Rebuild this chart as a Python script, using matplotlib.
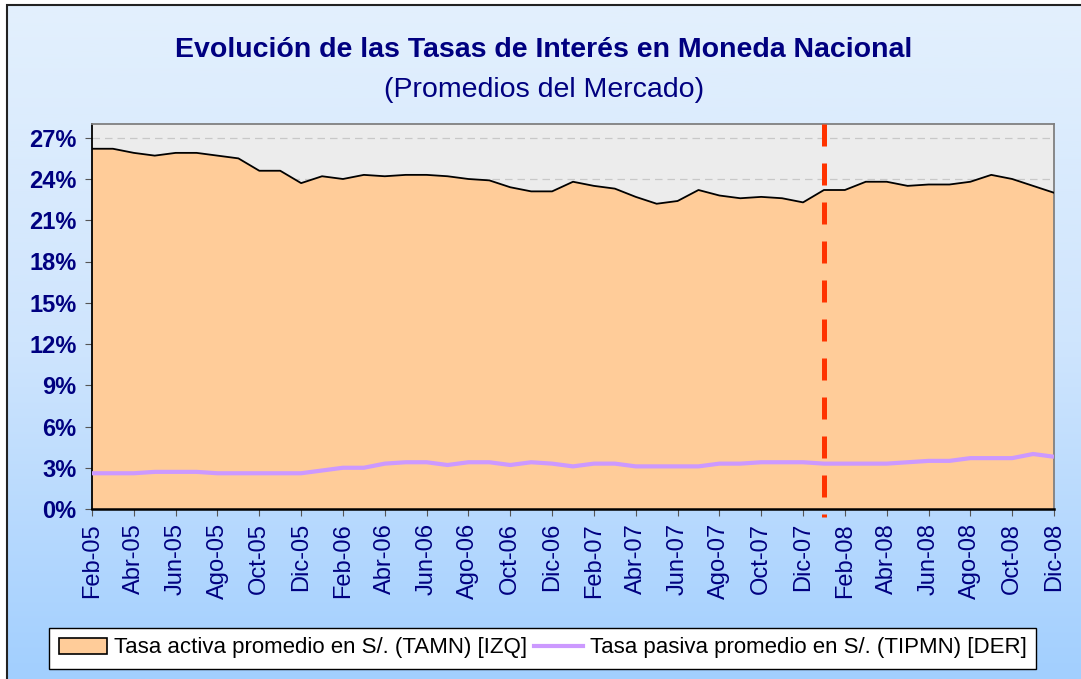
import numpy as np
import matplotlib
matplotlib.use("Agg")
import matplotlib.pyplot as plt
from matplotlib.patches import Patch, Rectangle
from matplotlib.lines import Line2D
from matplotlib.colors import LinearSegmentedColormap
from matplotlib.ticker import FuncFormatter, MultipleLocator

plt.rcParams['font.family'] = ['Liberation Sans', 'DejaVu Sans']

# ---------------- data ----------------
month_names = ["Ene", "Feb", "Mar", "Abr", "May", "Jun", "Jul", "Ago", "Sep", "Oct", "Nov", "Dic"]
years = ["05", "06", "07", "08"]
categories = [f"{m}-{y}" for y in years for m in month_names][1:]  # Feb-05 .. Dic-08

tamn = [26.2, 26.2, 25.9, 25.7, 25.9, 25.9, 25.7, 25.5, 24.6, 24.6, 23.7, 24.2,
        24.0, 24.3, 24.2, 24.3, 24.3, 24.2, 24.0, 23.9, 23.4, 23.1, 23.1, 23.8,
        23.5, 23.3, 22.7, 22.2, 22.4, 23.2, 22.8, 22.6, 22.7, 22.6, 22.3, 23.2,
        23.2, 23.8, 23.8, 23.5, 23.6, 23.6, 23.8, 24.3, 24.0, 23.5, 23.0]

tipmn = [2.6, 2.6, 2.6, 2.7, 2.7, 2.7, 2.6, 2.6, 2.6, 2.6, 2.6, 2.8,
         3.0, 3.0, 3.3, 3.4, 3.4, 3.2, 3.4, 3.4, 3.2, 3.4, 3.3, 3.1,
         3.3, 3.3, 3.1, 3.1, 3.1, 3.1, 3.3, 3.3, 3.4, 3.4, 3.4, 3.3,
         3.3, 3.3, 3.3, 3.4, 3.5, 3.5, 3.7, 3.7, 3.7, 4.0, 3.8]

marker_month = "Ene-08"

title = "Evolución de las Tasas de Interés en Moneda Nacional"
subtitle = "(Promedios del Mercado)"
legend_labels = ["Tasa activa promedio en S/. (TAMN) [IZQ]",
                 "Tasa pasiva promedio en S/. (TIPMN) [DER]"]

# ---------------- figure ----------------
W, H = 1081, 679
fig = plt.figure(figsize=(W / 100, H / 100), dpi=100, facecolor="white")

# gradient background
bg = fig.add_axes([7 / W, 0, 1 - 7 / W, 1 - 5 / H], zorder=-10)
grad = np.linspace(0, 1, 256).reshape(-1, 1)
cmap = LinearSegmentedColormap.from_list("bg", ["#E3F0FD", "#CFE5FD", "#A2CFFF"])
bg.imshow(grad, aspect="auto", cmap=cmap, extent=[0, 1, 0, 1], origin="upper")
bg.set_axis_off()
fig.patches.append(Rectangle((7 / W, -0.01), 1.0, 1 - 5 / H + 0.01,
                             transform=fig.transFigure, fill=False,
                             edgecolor="#222222", linewidth=1.5, zorder=-5))

ax = fig.add_axes([92 / W, 1 - 509 / H, (1054 - 92) / W, (509 - 124) / H])
ax.set_facecolor("#ECECEC")

x = np.arange(len(categories))
t_a = np.array(tamn) / 100
t_p = np.array(tipmn) / 100

ax.fill_between(x, 0, t_a, facecolor="#FFCC99", edgecolor="none", zorder=2)
ax.plot(x, t_a, color="black", linewidth=1.3, zorder=3)
ax.plot(x, t_p, color="#CC99FF", linewidth=3, zorder=4, solid_capstyle="butt")

xm = categories.index(marker_month)
ax.plot([xm, xm], [0.28, -0.006], color="#FF3300", linewidth=3.6,
        dashes=(4.4, 3.4), clip_on=False, zorder=5)

ax.set_xlim(0, len(categories) - 1)
ax.set_ylim(0, 0.28)
ax.yaxis.set_major_locator(MultipleLocator(0.03))
ax.yaxis.set_major_formatter(FuncFormatter(lambda v, p: f"{v * 100:.0f}%"))
ax.grid(axis="y", color="#C8C8C8", linestyle=(0, (6, 4)), linewidth=0.9, zorder=1)
ax.set_axisbelow(True)

ax.set_xticks(x[::2])
ax.set_xticklabels(categories[::2], rotation=90, va="top", ha="center",
                   color="#000080", fontsize=17)
ax.tick_params(axis="y", labelsize=17, labelcolor="#000080", length=5,
               direction="out", color="#555555", pad=6)
ax.tick_params(axis="x", length=5, direction="out", color="#555555", pad=5)
for lab in ax.get_yticklabels():
    lab.set_fontweight("bold")

ax.spines["left"].set_color("black")
ax.spines["bottom"].set_color("black")
ax.spines["left"].set_linewidth(1.3)
ax.spines["bottom"].set_linewidth(1.8)
ax.spines["top"].set_color("#808080")
ax.spines["right"].set_color("#808080")
ax.spines["top"].set_linewidth(1.3)
ax.spines["right"].set_linewidth(1.3)

fig.text(544 / W, 1 - 57 / H, title, ha="center", va="baseline",
         fontsize=20.5, fontweight="bold", color="#000080")
fig.text(544 / W, 1 - 97 / H, subtitle, ha="center", va="baseline",
         fontsize=20.5, color="#000080")

handles = [Patch(facecolor="#FFCC99", edgecolor="black", linewidth=1.2),
           Line2D([0], [0], color="#CC99FF", linewidth=3)]
leg = fig.legend(handles, legend_labels, ncol=2, loc="center",
                 bbox_to_anchor=((52 + 1033) / 2 / W, 1 - 648 / H),
                 fontsize=16, frameon=True, fancybox=False, framealpha=1,
                 edgecolor="black", handlelength=2.2, handleheight=0.7,
                 handletextpad=0.3, columnspacing=0.3, borderpad=0.45,
                 borderaxespad=0)
leg.get_frame().set_linewidth(1.0)

fig.savefig("out.png", dpi=100, facecolor=fig.get_facecolor())
